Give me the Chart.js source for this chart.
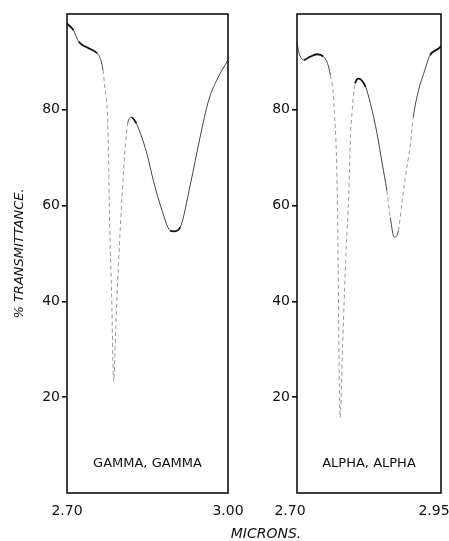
<!DOCTYPE html>
<html>
<head>
<meta charset="utf-8">
<script src="https://cdn.jsdelivr.net/npm/chart.js@4.4.1/dist/chart.umd.min.js"></script>
<style>
  body { margin: 0; background: #fff; }
  #wrap { position: relative; width: 449px; height: 541px; overflow: hidden; }
  #left { position: absolute; left: 0; top: 0; }
  #right { position: absolute; left: 240px; top: 0; }
  #xtitle {
    position: absolute; left: 216px; width: 100px; top: 525px;
    text-align: center; font: italic 14px "DejaVu Sans"; color: #111;
  }
</style>
</head>
<body>
<div id="wrap">
  <canvas id="left" width="262" height="541"></canvas>
  <canvas id="right" width="209" height="541"></canvas>
  <div id="xtitle">MICRONS.</div>
</div>
<script>
// readings
const gammaX = [2.700, 2.712, 2.722, 2.734, 2.747, 2.756, 2.762, 2.767, 2.771, 2.775, 2.777, 2.779, 2.783, 2.787, 2.791, 2.796, 2.801, 2.805, 2.809, 2.813, 2.820, 2.829, 2.837, 2.849, 2.861, 2.877, 2.892, 2.899, 2.911, 2.930, 2.948, 2.964, 2.979, 3.000];
const gammaY = [98.0, 96.6, 94.2, 93.2, 92.5, 91.8, 90.7, 88.3, 84.1, 79.9, 72.9, 58.6, 42.0, 23.3, 35.0, 48.0, 58.8, 66.5, 72.9, 77.1, 78.4, 77.2, 75.0, 70.8, 65.2, 59.0, 54.8, 54.6, 55.5, 64.5, 74.3, 82.0, 86.2, 90.4];

const alphaX = [2.700, 2.703, 2.712, 2.723, 2.735, 2.746, 2.753, 2.758, 2.763, 2.765, 2.768, 2.770, 2.775, 2.779, 2.785, 2.790, 2.791, 2.793, 2.795, 2.798, 2.801, 2.807, 2.819, 2.8275, 2.839, 2.848, 2.856, 2.862, 2.869, 2.876, 2.882, 2.888, 2.897, 2.902, 2.911, 2.920, 2.931, 2.946, 2.950];
const alphaY = [94.2, 92.1, 90.4, 91.1, 91.6, 91.1, 89.7, 87.2, 83.4, 79.2, 72.2, 62.1, 15.7, 30.0, 50.0, 62.8, 67.0, 75.0, 78.5, 83.0, 85.5, 86.5, 84.8, 81.3, 75.0, 68.7, 63.1, 57.5, 53.4, 54.8, 60.4, 65.9, 72.9, 78.5, 84.1, 87.6, 91.4, 92.8, 93.3];

const yTicks = [20, 40, 60, 80];
const gammaXTicks = [2.70, 3.00];
const alphaXTicks = [2.70, 2.95];

const ink = "#111";

// box round the plot area
const frame = {
  id: "frame",
  afterDatasetsDraw(chart) {
    const a = chart.chartArea, c = chart.ctx;
    c.save();
    c.strokeStyle = ink;
    c.lineWidth = 1.6;
    c.strokeRect(a.left, a.top, a.right - a.left, a.bottom - a.top);
    c.restore();
  }
};

const panelLabel = {
  id: "panelLabel",
  afterDraw(chart, args, opts) {
    const a = chart.chartArea, c = chart.ctx;
    c.save();
    c.fillStyle = ink;
    c.font = "13px 'DejaVu Sans'";
    c.textAlign = "center";
    c.textBaseline = "middle";
    c.fillText(opts.text, (a.left + a.right) / 2, a.bottom - 29);
    c.restore();
  }
};

// pen speed: fast moves leave a faint, broken line
function slope(ctx) {
  const dx = Math.abs(ctx.p1.x - ctx.p0.x) || 0.01;
  return Math.abs(ctx.p1.y - ctx.p0.y) / dx;
}

function makePanel(id, xs, ys, xMin, xMax, xTicks, label, axisWidth, padRight, labelShift, yTitle) {
  const pts = xs.map(function (x, i) { return { x: x, y: ys[i] }; });
  return new Chart(document.getElementById(id), {
    type: "line",
    data: {
      datasets: [{
        data: pts,
        borderColor: ink,
        borderWidth: 1.8,
        pointRadius: 0,
        cubicInterpolationMode: "monotone",
        segment: {
          borderColor: function (ctx) {
            const s = slope(ctx);
            return s > 6 ? "#999" : s > 1.5 ? "#444" : undefined;
          },
          borderWidth: function (ctx) { return slope(ctx) > 1.5 ? 1 : undefined; },
          borderDash: function (ctx) { return slope(ctx) > 6 ? [4, 3] : undefined; }
        }
      }]
    },
    options: {
      responsive: false,
      animation: false,
      layout: { padding: { top: 14, right: padRight, left: 0, bottom: 0 } },
      plugins: {
        legend: { display: false },
        tooltip: { enabled: false },
        panelLabel: { text: label }
      },
      scales: {
        x: {
          type: "linear",
          min: xMin,
          max: xMax,
          afterBuildTicks: function (axis) { axis.ticks = xTicks.map(function (v) { return { value: v }; }); },
          afterFit: function (axis) {
            axis.height = 48;
            axis.paddingLeft = 0;
            axis.paddingRight = 0;
          },
          grid: { display: false },
          border: { display: false },
          ticks: {
            autoSkip: false, maxRotation: 0, padding: 2, color: ink,
            labelOffset: labelShift,
            font: { family: "DejaVu Sans", size: 14 },
            callback: function (v) { return v.toFixed(2); }
          }
        },
        y: {
          min: 0,
          max: 100,
          afterBuildTicks: function (axis) { axis.ticks = yTicks.map(function (v) { return { value: v }; }); },
          afterFit: function (axis) {
            axis.width = axisWidth;
            axis.paddingTop = 0;
            axis.paddingBottom = 0;
          },
          grid: { drawOnChartArea: false, tickLength: 5, color: ink, lineWidth: 1.6 },
          border: { display: false },
          ticks: {
            padding: 2, color: ink,
            font: { family: "DejaVu Sans", size: 14 }
          },
          title: {
            display: yTitle,
            text: "% TRANSMITTANCE.",
            color: ink,
            padding: { top: 12, bottom: 0 },
            font: { family: "DejaVu Sans", size: 13, style: "italic" }
          }
        }
      }
    },
    plugins: [frame, panelLabel]
  });
}

makePanel("left", gammaX, gammaY, 2.70, 3.00, gammaXTicks, "GAMMA, GAMMA", 67, 34, 0, true);
makePanel("right", alphaX, alphaY, 2.70, 2.95, alphaXTicks, "ALPHA, ALPHA", 57, 8, -7, false);
</script>
</body>
</html>
